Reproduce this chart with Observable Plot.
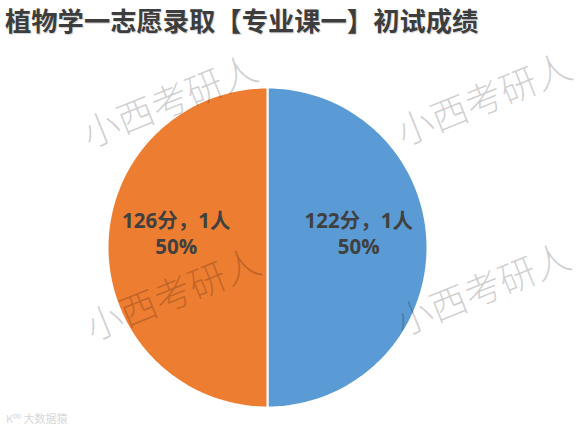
<!DOCTYPE html>
<html>
<head>
<meta charset="utf-8">
<script src="https://cdn.jsdelivr.net/npm/d3@7"></script>
<script src="https://cdn.jsdelivr.net/npm/@observablehq/plot@0.6"></script>
<style>
  html, body { margin: 0; padding: 0; background: #fff; }
  #wrap { position: relative; width: 578px; height: 434px; }
  #title {
    position: absolute; left: 5px; top: 5px;
    font-family: "Noto Sans CJK SC", sans-serif; font-weight: 700;
    font-size: 26.3px; line-height: 30px; color: #3d3d3d; white-space: nowrap;
    text-shadow: 1px 1px 1px rgba(0,0,0,0.18);
  }
  #chart { position: absolute; left: 0; top: 40px; }
  .wm {
    position: absolute; font-family: "Noto Sans CJK SC", sans-serif; font-weight: 300;
    font-size: 37px; line-height: 40px; color: rgba(0,0,0,0.19); white-space: nowrap;
    transform: translate(-50%, -50%) rotate(-22deg); pointer-events: none;
  }
  #logo {
    position: absolute; left: 6px; top: 410px; font-family: "Noto Sans CJK SC", sans-serif;
    font-size: 11px; color: #d8d8d8;
  }
</style>
</head>
<body>
<div id="wrap">
  <div id="title">植物学一志愿录取【专业课一】初试成绩</div>
  <div id="chart"></div>
  <div class="wm" style="left:169px;top:99px">小西考研人</div>
  <div class="wm" style="left:483px;top:97px">小西考研人</div>
  <div class="wm" style="left:172px;top:292px">小西考研人</div>
  <div class="wm" style="left:482px;top:287px">小西考研人</div>
  <div id="logo">K⁰⁰ 大数据猿</div>
</div>
<script>
// Scores and how many admitted students got each
const scores = ["122分", "126分"];
const counts = [1, 1];
const colors = ["#5B9BD5", "#ED7D31"];

const total = d3.sum(counts);
const slices = d3.pie().sort(null).value((d) => d.count)(
  scores.map((s, i) => ({score: s, count: counts[i]}))
);

// Outline each slice as a polygon: centre, points along the arc, back to centre
const outline = [];
for (const s of slices) {
  const n = 90;
  outline.push({score: s.data.score, x: 0, y: 0});
  for (let k = 0; k <= n; k++) {
    const a = s.startAngle + (s.endAngle - s.startAngle) * (k / n);
    outline.push({score: s.data.score, x: Math.sin(a), y: Math.cos(a)});
  }
  outline.push({score: s.data.score, x: 0, y: 0});
}

// Labels sit on the slice's bisector
const labels = slices.map((s) => {
  const a = (s.startAngle + s.endAngle) / 2;
  const pct = Math.round((s.data.count / total) * 100);
  return {
    x: Math.sin(a) * 0.57,
    y: Math.cos(a) * 0.57,
    text: `${s.data.score}，${s.data.count}人\n${pct}%`
  };
});

const cx = 267, cy = 207, r = 160;
const chart = Plot.plot({
  width: 578,
  height: 394,
  margin: 0,
  x: {domain: [-1, 1], range: [cx - r, cx + r], axis: null},
  y: {domain: [-1, 1], range: [cy + r, cy - r], axis: null},
  color: {domain: scores, range: colors},
  marks: [
    Plot.line(outline, {
      x: "x", y: "y", z: "score", fill: "score",
      stroke: "white", strokeWidth: 2, curve: "linear"
    }),
    Plot.text(labels, {
      x: "x", y: "y", text: "text", dy: -15,
      fontSize: 20.5, fontWeight: 700, fill: "#404040",
      fontFamily: "'Open Sans', 'Noto Sans CJK SC', sans-serif",
      lineHeight: 1.27
    })
  ]
});
chart.style.background = "transparent";
document.getElementById("chart").appendChild(chart);
</script>
</body>
</html>
